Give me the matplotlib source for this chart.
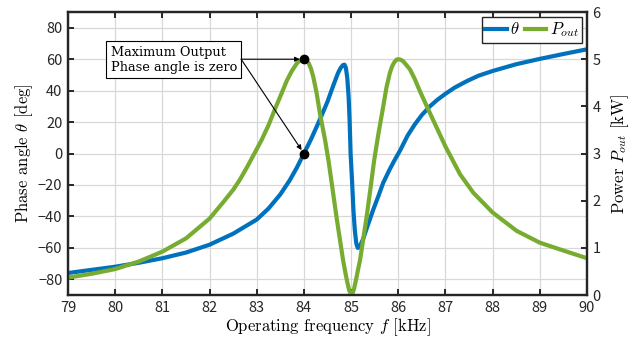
import numpy as np
import matplotlib
matplotlib.use('Agg')
import matplotlib.pyplot as plt

plt.rcParams['font.family'] = ['Noto Sans CJK JP', 'DejaVu Sans']
plt.rcParams['mathtext.fontset'] = 'cm'

# phase angle theta [deg] vs frequency [kHz]
theta_freq = [79.0, 79.5, 80.0, 80.5, 81.0, 81.5, 82.0, 82.5, 83.0, 83.25,
              83.5, 83.7, 83.85, 84.0, 84.15, 84.34, 84.5, 84.62, 84.72, 84.78,
              84.83, 84.86, 84.89, 84.92, 84.95, 84.97, 84.99, 85.02, 85.05, 85.08,
              85.11, 85.14, 85.17, 85.21, 85.26, 85.35, 85.47, 85.58, 85.68, 85.82,
              85.93, 86.04, 86.2, 86.35, 86.5, 86.67, 86.83, 87.0, 87.2, 87.45,
              87.7, 88.0, 88.5, 89.0, 89.5, 90.0]
theta_deg = [-76, -74, -72, -69.5, -66.6, -63, -58, -51, -42, -35,
             -26, -17, -9, 0, 9, 21.7, 33, 43, 51, 54.5,
             56.3, 56.5, 54.5, 48, 35, 20, 0, -17, -36, -49,
             -57, -60, -59.8, -57.5, -54, -46, -35.7, -27, -18.7, -10,
             -3.8, 2, 11.5, 18.5, 24.5, 30, 34.2, 38, 42, 46,
             49.5, 52.5, 56.8, 60.2, 63.3, 66.3]

# output power [kW] vs frequency [kHz]
power_freq = [79.0, 79.5, 80.0, 80.5, 81.0, 81.5, 82.0, 82.3, 82.5, 82.64,
              82.8, 82.95, 83.1, 83.25, 83.39, 83.52, 83.64, 83.75, 83.85, 83.9,
              83.95, 84.0, 84.05, 84.1, 84.15, 84.2, 84.27, 84.34, 84.45, 84.52,
              84.6, 84.69, 84.76, 84.83, 84.88, 84.92, 84.96, 84.99, 85.01, 85.03,
              85.06, 85.1, 85.14, 85.19, 85.26, 85.33, 85.41, 85.49, 85.58, 85.68,
              85.75, 85.82, 85.87, 85.92, 85.96, 86.0, 86.05, 86.1, 86.17, 86.25,
              86.35, 86.46, 86.67, 87.0, 87.31, 87.59, 88.0, 88.51, 89.0, 89.51,
              90.0]
power_kw = [0.37, 0.45, 0.55, 0.71, 0.92, 1.2, 1.62, 1.98, 2.23, 2.44,
            2.72, 3.0, 3.28, 3.6, 3.95, 4.26, 4.55, 4.76, 4.91, 4.96,
            4.99, 5.0, 4.98, 4.92, 4.8, 4.62, 4.28, 3.85, 3.28, 2.86,
            2.3, 1.66, 1.2, 0.74, 0.47, 0.27, 0.1, 0.03, 0.01, 0.03,
            0.12, 0.3, 0.5, 0.74, 1.2, 1.66, 2.25, 2.86, 3.42, 3.99,
            4.4, 4.7, 4.85, 4.94, 4.99, 5.0, 4.99, 4.96, 4.88, 4.78,
            4.58, 4.32, 3.86, 3.15, 2.56, 2.17, 1.75, 1.36, 1.11, 0.94,
            0.78]

# highlighted points (left axis, deg)
mark_freq = [84, 84]
mark_deg = [60, 0]

blue = '#0072BD'
green = '#77AC30'
tick_col = '#262626'

fig = plt.figure(figsize=(6.38, 3.44), dpi=100)
fig.subplots_adjust(left=0.1066, right=0.920, bottom=0.1424, top=0.965)
ax = fig.add_subplot(111)
ax2 = ax.twinx()

l1, = ax.plot(theta_freq, theta_deg, color=blue, lw=3, label=r'$\theta$',
              solid_joinstyle='round')
l2, = ax2.plot(power_freq, power_kw, color=green, lw=3, label=r'$P_{out}$',
               solid_joinstyle='round')

ax.set_xlim(79, 90)
ax.set_ylim(-90, 90)
ax2.set_ylim(0, 6)
ax.set_xticks(np.arange(79, 91, 1))
ax.set_yticks(np.arange(-80, 81, 20))
ax2.set_yticks(np.arange(0, 7, 1))

ax.grid(True, color='#d8d8d8', lw=0.9)
ax.set_axisbelow(True)

for a in (ax, ax2):
    for s in a.spines.values():
        s.set_linewidth(1.6)
        s.set_color(tick_col)
ax.tick_params(direction='in', top=True, right=False, length=4, width=1.4,
               labelsize=10.5, colors=tick_col, pad=4)
ax2.tick_params(direction='in', length=4, width=1.4, labelsize=10.5,
                colors=tick_col, pad=4)

lab = dict(family='cmr10', fontsize=12)
ax.set_xlabel(r'Operating frequency $f$ [kHz]', labelpad=1, **lab)
ax.set_ylabel(r'Phase angle $\theta$ [deg]', labelpad=2, **lab)
ax2.set_ylabel(r'Power $P_{out}$ [kW]', labelpad=6, **lab)

leg = ax2.legend(handles=[l1, l2], loc='upper right', ncol=2, fontsize=12,
                 handlelength=1.3, handletextpad=0.2, columnspacing=0.3,
                 borderpad=0.2, borderaxespad=0.3, fancybox=False,
                 framealpha=1, edgecolor=tick_col)
leg.get_frame().set_linewidth(1.0)

# annotation drawn on the top axes, in left-axis data coords
ax2.plot(mark_freq, mark_deg, 'o', color='k', ms=6, transform=ax.transData,
         zorder=5)
ax2.text(81.24, 59.7, 'Maximum Output\nPhase angle is zero', family='DejaVu Serif',
         fontsize=9.3, ha='center', va='center', multialignment='left',
         transform=ax.transData, zorder=6,
         bbox=dict(boxstyle='square,pad=0.35', fc='white', ec='k', lw=0.8))
for fx, dy in zip(mark_freq, mark_deg):
    ax2.annotate('', xy=(fx, dy), xytext=(82.67, 60), xycoords=ax.transData,
                 textcoords=ax.transData, zorder=6,
                 arrowprops=dict(arrowstyle='-|>', color='k', lw=0.8,
                                 shrinkA=0, shrinkB=3, mutation_scale=7))

fig.savefig('out.png', dpi=100)
